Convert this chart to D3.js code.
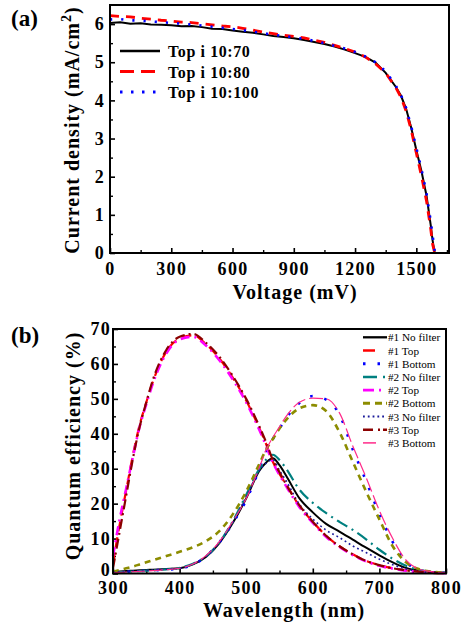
<!DOCTYPE html>
<html><head><meta charset="utf-8">
<script src="https://cdn.jsdelivr.net/npm/d3@7"></script>
<style>
body{margin:0;background:#fff;}
svg{display:block;font-family:"Liberation Serif","Times New Roman",Times,serif;}
</style></head>
<body>
<svg id="c" width="463" height="622"></svg>
<script>
// ---------- Panel (a) data ----------
const voltage = [0,50,100,150,200,250,300,350,400,450,500,550,600,650,700,750,800,850,900,950,1000,1050,1100,1150,1200,1250,1300,1350,1400,1425,1450,1475,1500,1525,1550,1570,1580,1590];
const jTop70  = [6.03,6.05,6.01,6.02,5.99,5.98,5.97,5.94,5.95,5.92,5.88,5.87,5.83,5.80,5.77,5.73,5.69,5.66,5.63,5.58,5.53,5.48,5.41,5.33,5.24,5.14,4.99,4.72,4.35,4.12,3.78,3.28,2.70,2.15,1.50,0.75,0.32,0.0];
const jTop80  = [6.22,6.20,6.19,6.15,6.13,6.10,6.08,6.05,6.04,6.01,5.98,5.95,5.93,5.89,5.84,5.79,5.75,5.71,5.68,5.64,5.58,5.52,5.44,5.36,5.27,5.14,4.96,4.72,4.33,4.08,3.72,3.22,2.62,2.02,1.36,0.65,0.22,0.0];
const jTop100 = [6.12,6.13,6.10,6.09,6.07,6.05,6.03,6.01,5.99,5.96,5.93,5.90,5.87,5.84,5.80,5.76,5.72,5.69,5.65,5.61,5.56,5.50,5.43,5.36,5.27,5.15,5.00,4.76,4.38,4.14,3.80,3.32,2.76,2.20,1.56,0.85,0.45,0.05];
const seriesA = ["Top i 10:70","Top i 10:80","Top i 10:100"];
const xTicksA = [0,300,600,900,1200,1500];
const yTicksA = [0,1,2,3,4,5,6];

// ---------- Panel (b) data ----------
const wavelength = [300,310,320,330,340,350,360,380,400,420,440,460,480,500,520,530,540,550,560,580,600,620,640,660,680,700,720,740,760,780,800];
const noFilter1 = [0.5,0.6,0.7,0.8,0.9,1.0,1.1,1.3,1.5,2.6,4.8,8.8,14.5,21.5,29.5,31.8,33,31,28,21.5,17.5,14.2,12,9.7,7.4,5.2,3.2,1.6,0.8,0.4,0.2];
const top1      = [3,14,24,34,42.5,49,55,63.5,67.3,68.2,65.6,61.5,56,49.5,41.5,37,32,28.5,25.5,19.3,14.8,10.8,7.8,5.5,3.6,2.4,1.5,0.9,0.5,0.2,0.1];
const bottom1   = [0.3,0.4,0.5,0.6,0.7,0.8,0.9,1.1,1.4,2.5,5,9,14.5,21,30,35,38.5,41.5,44.5,48.8,50.8,49.8,45.5,35.5,26.5,17,9,3.3,1,0.4,0.2];
const noFilter2 = [0.3,0.4,0.5,0.6,0.7,0.8,0.9,1.2,1.6,2.8,5,9,15,22.5,30,32.6,34,32.5,30,24,20.2,17.3,14.8,12.5,9.8,6.8,4.2,2.2,1,0.5,0.3];
const top2      = [5,15.5,24.5,33.5,42,48.5,54.5,63,67,67.8,65.2,61,55.5,49,41,36.5,31.8,28.2,25,19,14.5,10.5,7.6,5.3,3.5,2.2,1.4,0.8,0.4,0.2,0.1];
const bottom2   = [0.5,1.0,1.5,2.0,2.6,3.2,3.8,5.0,6.2,7.5,9.3,12.2,17,23.5,31.5,35.5,38.5,41.5,44,47.3,48.2,46.5,40.5,32,23.5,15.5,7.8,3.2,1.2,0.5,0.2];
const noFilter3 = [0.4,0.5,0.6,0.7,0.8,0.9,1.0,1.2,1.5,2.7,4.9,8.9,14.6,22,29.5,31.6,32.6,29.5,26.5,19.8,15.6,12.4,10.3,7.9,6,4.1,2.5,1.3,0.6,0.3,0.2];
const top3      = [1.5,12,22.5,33,42,49,55.5,64,67.8,68.6,66,62,56.5,50,42,37.5,32.5,29,25.5,19.5,14.8,10.8,7.8,5.5,3.6,2.4,1.5,0.9,0.5,0.2,0.1];
const bottom3   = [0.2,0.3,0.4,0.5,0.6,0.7,0.8,1.1,1.5,2.7,5.2,9.2,15,21.5,30.5,35.5,39,42,45,49,50.2,50,46,36.5,27.5,18,10,3.8,1.2,0.5,0.2];
const seriesB = ["#1 No filter","#1 Top","#1 Bottom","#2 No filter","#2 Top","#2 Bottom","#3 No filter","#3 Top","#3 Bottom"];
const xTicksB = [300,400,500,600,700,800];
const yTicksB = [0,10,20,30,40,50,60,70];

const FONT = "Liberation Serif, Times New Roman, serif";
const svg = d3.select("#c");

function styleAxis(a){
  a.select(".domain").remove();
  a.selectAll(".tick line").attr("stroke","#000").attr("stroke-width",1.6);
  a.selectAll(".tick text").attr("font-size",18).attr("font-weight","bold")
   .attr("font-family",FONT).attr("fill","#000").attr("letter-spacing","1.3px");
}
function minor(a){ a.select(".domain").remove(); a.selectAll(".tick line").attr("stroke","#000").attr("stroke-width",1.4); }

// ================= Panel (a) =================
const xA = d3.scaleLinear().domain([0,1660]).range([110,449]);
const yA = d3.scaleLinear().domain([0,6.5]).range([253,5]);
const gA = svg.append("g");
gA.append("g").attr("transform",`translate(0,${yA(0)})`)
  .call(d3.axisBottom(xA).tickValues(d3.range(150,1660,300)).tickSize(-3).tickFormat("")).call(minor);
gA.append("g").attr("transform",`translate(${xA(0)},0)`)
  .call(d3.axisLeft(yA).tickValues(d3.range(0.5,6.5,1)).tickSize(-3).tickFormat("")).call(minor);
gA.append("g").attr("transform",`translate(0,${yA(0)})`)
  .call(d3.axisBottom(xA).tickValues(xTicksA).tickSize(-5).tickPadding(9).tickFormat(d3.format("d"))).call(styleAxis);
gA.append("g").attr("transform",`translate(${xA(0)},0)`)
  .call(d3.axisLeft(yA).tickValues(yTicksA).tickSize(-5).tickPadding(5).tickFormat(d3.format("d"))).call(styleAxis);

const lineA = d3.line().x((d,i)=>xA(voltage[i])).y(d=>yA(d));
const stylesA = [
  {data:jTop70, color:"#000", dash:null, w:2},
  {data:jTop80, color:"#ff0000", dash:"9,7", w:2.8},
  {data:jTop100, color:"#0000ff", dash:"2.2,9", w:2.6}
];
stylesA.forEach(s=>{
  gA.append("path").datum(s.data).attr("d",lineA).attr("fill","none")
    .attr("stroke",s.color).attr("stroke-width",s.w)
    .attr("stroke-dasharray",s.dash).attr("stroke-linecap","butt");
});
gA.append("rect").attr("x",xA(0)).attr("y",yA(6.5)).attr("width",xA(1660)-xA(0)).attr("height",yA(0)-yA(6.5))
  .attr("fill","none").attr("stroke","#000").attr("stroke-width",2);

const legA = gA.append("g");
const legDashA = [null,"14,7","2.5,8.5"];
stylesA.forEach((s,i)=>{
  const y = 51 + i*20.5;
  legA.append("line").attr("x1",120).attr("x2",160).attr("y1",y).attr("y2",y)
    .attr("stroke",s.color).attr("stroke-width",s.w+0.4).attr("stroke-dasharray",legDashA[i]);
  legA.append("text").attr("x",168).attr("y",y+6).text(seriesA[i])
    .attr("font-size",16).attr("font-weight","bold").attr("letter-spacing","0.6px");
});

svg.append("text").attr("x",295).attr("y",299).attr("text-anchor","middle")
  .attr("font-size",20).attr("font-weight","bold").attr("letter-spacing","1px").text("Voltage (mV)");
const ylabA = svg.append("text").attr("transform","translate(79,130) rotate(-90)").attr("text-anchor","middle")
  .attr("font-size",20).attr("font-weight","bold").attr("letter-spacing","1px");
ylabA.append("tspan").text("Current density (mA/cm");
ylabA.append("tspan").attr("font-size",14).attr("dy",-8).text("2");
ylabA.append("tspan").attr("dy",8).text(")");
svg.append("text").attr("x",11).attr("y",26).attr("font-size",23).attr("font-weight","bold").text("(a)");

// ================= Panel (b) =================
const xB = d3.scaleLinear().domain([300,800]).range([113,446]);
const yB = d3.scaleLinear().domain([0,70]).range([573.5,329]);
const gB = svg.append("g");
gB.append("g").attr("transform",`translate(0,${yB(0)})`)
  .call(d3.axisBottom(xB).tickValues(d3.range(350,800,100)).tickSize(-3).tickFormat("")).call(minor);
gB.append("g").attr("transform",`translate(${xB(300)},0)`)
  .call(d3.axisLeft(yB).tickValues(d3.range(5,70,10)).tickSize(-3).tickFormat("")).call(minor);
gB.append("g").attr("transform",`translate(0,${yB(0)})`)
  .call(d3.axisBottom(xB).tickValues(xTicksB).tickSize(-5).tickPadding(8).tickFormat(d3.format("d"))).call(styleAxis);
gB.append("g").attr("transform",`translate(${xB(300)},0)`)
  .call(d3.axisLeft(yB).tickValues(yTicksB).tickSize(-5).tickPadding(2).tickFormat(d3.format("d"))).call(styleAxis)
  .call(a=>a.selectAll(".tick text").filter(d=>d===0).attr("dy","0.1em"));

const lineB = d3.line().x((d,i)=>xB(wavelength[i])).y(d=>yB(d)).curve(d3.curveMonotoneX);
const stylesB = [
  {data:noFilter1, color:"#000000", dash:null, w:2, leg:null},
  {data:top1, color:"#ff0000", dash:"10,6", w:2.2, leg:"12,14"},
  {data:bottom1, color:"#0000ff", dash:"2.5,12", w:2.6, leg:"2.5,12"},
  {data:noFilter2, color:"#008080", dash:"12,5,2,5", w:2.2, leg:"14,6,2,4"},
  {data:top2, color:"#ff00ff", dash:"9,5,2,5", w:2.6, leg:"11,5,2,6"},
  {data:bottom2, color:"#8c8c00", dash:"6,5", w:2.6, leg:"7,5,7,4,2,3"},
  {data:noFilter3, color:"#1a1a9a", dash:"1.8,3", w:1.6, leg:"1.8,3"},
  {data:top3, color:"#8b0000", dash:"10,4,2,4", w:2.2, leg:"10,5,2,3"},
  {data:bottom3, color:"#ff2a8a", dash:"14,4", w:1.2, leg:"13,20"}
];
stylesB.forEach(s=>{
  gB.append("path").datum(s.data).attr("d",lineB).attr("fill","none")
    .attr("stroke",s.color).attr("stroke-width",s.w).attr("stroke-dasharray",s.dash);
});
gB.append("rect").attr("x",xB(300)).attr("y",yB(70)).attr("width",xB(800)-xB(300)).attr("height",yB(0)-yB(70))
  .attr("fill","none").attr("stroke","#000").attr("stroke-width",2);

const legB = gB.append("g");
stylesB.forEach((s,i)=>{
  const y = 337.3 + i*13.2;
  legB.append("line").attr("x1",363).attr("x2",387).attr("y1",y).attr("y2",y)
    .attr("stroke",s.color).attr("stroke-width",s.w+0.3).attr("stroke-dasharray",s.leg);
  legB.append("text").attr("x",388).attr("y",y+4).text(seriesB[i]).attr("font-size",11.2);
});

svg.append("text").attr("x",284).attr("y",617).attr("text-anchor","middle")
  .attr("font-size",20).attr("font-weight","bold").attr("letter-spacing","1px").text("Wavelength (nm)");
svg.append("text").attr("transform","translate(80,446) rotate(-90)").attr("text-anchor","middle")
  .attr("font-size",20).attr("font-weight","bold").attr("letter-spacing","1px").text("Quantum efficiency (%)");
svg.append("text").attr("x",11).attr("y",343).attr("font-size",23).attr("font-weight","bold").text("(b)");
</script>
</body></html>
